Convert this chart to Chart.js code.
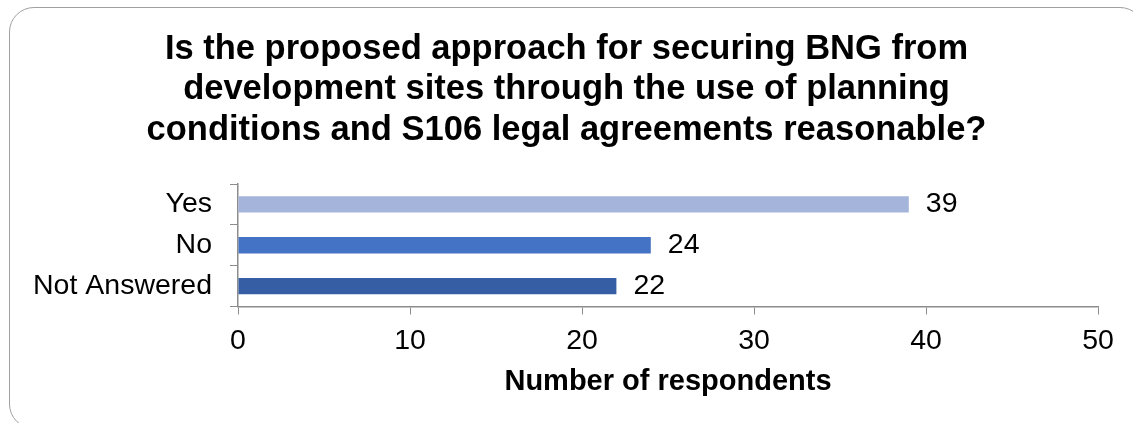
<!DOCTYPE html>
<html>
<head>
<meta charset="utf-8">
<script src="https://cdn.jsdelivr.net/npm/chart.js@4/dist/chart.umd.min.js"></script>
<style>
  html, body { margin: 0; padding: 0; background: #fff; overflow: hidden; }
  #wrap { position: relative; width: 1133px; height: 423px; }
  #frame {
    position: absolute; left: 9px; top: 7px; width: 1136px; height: 422px;
    border: 1.5px solid #a0a0a0; border-radius: 25px; box-sizing: border-box;
  }
  #myChart { position: absolute; left: 0; top: 0; }
</style>
</head>
<body>
<div id="wrap">
  <div id="frame"></div>
  <canvas id="myChart" width="1133" height="423"></canvas>
</div>
<script>
var categories = ["Yes", "No", "Not Answered"];
var respondents = [39, 24, 22];
var barColors = ["#a5b4da", "#4472c4", "#355ea4"];
var titleLines = [
  "Is the proposed approach for securing BNG from",
  "development sites through the use of planning",
  "conditions and S106 legal agreements reasonable?"
];
var xTicks = [0, 10, 20, 30, 40, 50];

var fontFamily = "'Liberation Sans', Arial, sans-serif";
var axisGrey = "#8c8c8c";

// writes the value just past the end of each bar
var valueLabels = {
  id: "valueLabels",
  afterDatasetsDraw: function(chart) {
    var ctx = chart.ctx;
    var meta = chart.getDatasetMeta(0);
    ctx.save();
    ctx.font = "28.5px " + fontFamily;
    ctx.fillStyle = "#000";
    ctx.textAlign = "left";
    ctx.textBaseline = "middle";
    meta.data.forEach(function(bar, i) {
      ctx.fillText(String(respondents[i]), bar.x + 17, bar.y);
    });
    ctx.restore();
  }
};

document.addEventListener("DOMContentLoaded", function () {
  var ctx = document.getElementById("myChart").getContext("2d");

  var myChart = new Chart(ctx, {
    type: "bar",
    data: {
      labels: categories,
      datasets: [{
        data: respondents,
        backgroundColor: barColors,
        borderWidth: 0,
        barPercentage: 0.4,
        categoryPercentage: 1
      }]
    },
    options: {
      indexAxis: "y",
      responsive: false,
      animation: false,
      layout: { padding: 0 },
      plugins: {
        legend: { display: false },
        tooltip: { enabled: false },
        title: {
          display: true,
          text: titleLines,
          color: "#000",
          font: { family: fontFamily, size: 34.5, weight: "bold", lineHeight: "40.5px" },
          padding: { top: 29, bottom: 33.5 }
        }
      },
      scales: {
        x: {
          min: 0,
          max: 50,
          afterBuildTicks: function(scale) {
            scale.ticks = xTicks.map(function(v) { return { value: v }; });
          },
          afterFit: function(scale) { scale.height = 116.5; },
          grid: { drawOnChartArea: false, color: axisGrey, tickLength: 8 },
          border: { color: axisGrey, width: 1.5 },
          ticks: {
            color: "#000",
            font: { family: fontFamily, size: 28.5 },
            padding: 10,
            maxRotation: 0
          },
          title: {
            display: true,
            text: "Number of respondents",
            color: "#000",
            font: { family: fontFamily, size: 29, weight: "bold" },
            padding: { top: 0, bottom: 24 }
          }
        },
        y: {
          afterFit: function(scale) { scale.width = 238; },
          grid: { drawOnChartArea: false, color: axisGrey, tickLength: 8, offset: true },
          border: { color: axisGrey, width: 1.5 },
          ticks: {
            color: "#000",
            font: { family: fontFamily, size: 28.5 },
            padding: 18
          }
        },
        spacer: {
          type: "linear",
          position: "right",
          display: true,
          afterFit: function(scale) { scale.width = 35; },
          grid: { display: false },
          border: { display: false },
          ticks: { display: false }
        }
      }
    },
    plugins: [valueLabels]
  });
});
</script>
</body>
</html>
